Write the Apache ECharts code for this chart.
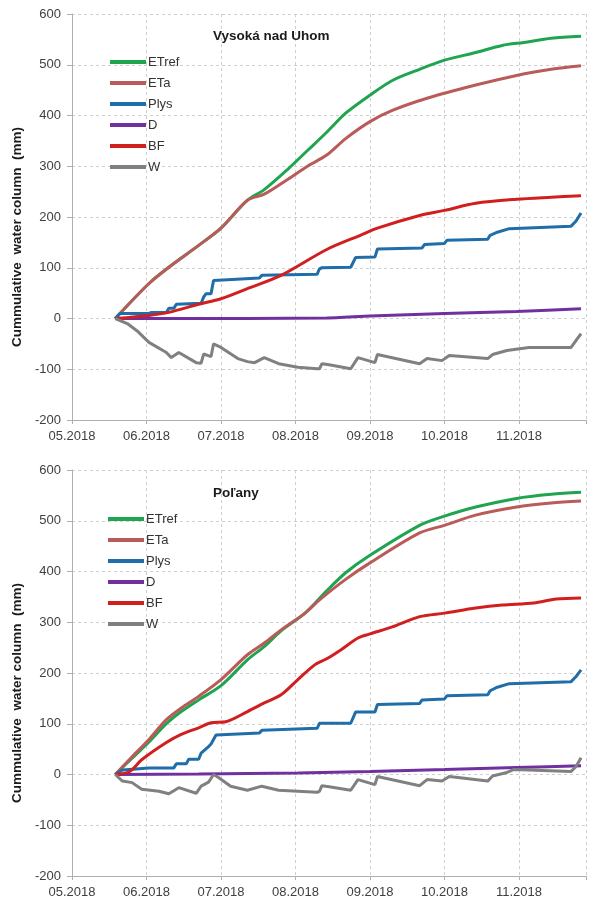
<!DOCTYPE html>
<html>
<head>
<meta charset="utf-8">
<script src="https://cdn.jsdelivr.net/npm/echarts@6/dist/echarts.min.js"></script>
<style>html,body{margin:0;padding:0;background:#fff}#c{width:589px;height:899px}</style>
</head>
<body>
<div id="c"></div>
<script>
// ---------- data (dates are MM-DD in 2018, values in mm) ----------
const monthLabels = ['05.2018','06.2018','07.2018','08.2018','09.2018','10.2018','11.2018'];
const seriesNames = ['ETref','ETa','Plys','D','BF','W'];
const titles = ['Vysoká nad Uhom','Poľany'];

// Vysoká nad Uhom
const topETref = [['05-19',0],['06-02',69],['06-10',101],['06-22',144],['07-01',178],['07-12',233],['07-19',254],['07-29',295],['08-06',331],['08-14',367],['08-22',405],['09-01',440],['09-10',469],['09-21',491],['10-01',509],['10-14',524],['10-25',538],['11-03',544],['11-14',552],['11-26',556]];
const topETa = [['05-19',0],['06-02',69],['06-10',101],['06-22',144],['07-01',178],['07-12',233],['07-19',245],['07-29',275],['08-06',300],['08-14',322],['08-22',355],['09-01',388],['09-10',410],['09-24',434],['10-14',460],['10-31',479],['11-14',491],['11-26',498]];
const topPlys = [['05-19',0],['05-21',10],['06-02',10],['06-03',12],['06-09',12],['06-10',20],['06-12',20],['06-13',28],['06-23',30],['06-24',42],['06-25',49],['06-27',49],['06-28',75],['07-17',80],['07-18',85],['08-10',87],['08-11',98],['08-12',100],['08-24',101],['08-26',120],['09-03',121],['09-04',137],['09-22',139],['09-23',146],['10-01',148],['10-02',154],['10-19',156],['10-20',164],['10-23',170],['10-28',177],['11-22',182],['11-24',192],['11-26',208]];
const topD = [['05-19',0],['07-12',0],['08-14',1],['09-01',5],['10-01',10],['10-31',14],['11-26',19]];
const topBF = [['05-19',0],['06-02',6],['06-10',12],['06-22',28],['07-01',39],['07-12',59],['07-26',85],['08-14',136],['08-28',164],['09-04',178],['09-21',203],['10-01',213],['10-14',227],['10-31',235],['11-14',239],['11-26',242]];
const topW = [['05-19',0],['05-24',-10],['05-28',-24],['06-02',-47],['06-09',-67],['06-11',-77],['06-14',-67],['06-21',-87],['06-23',-88],['06-24',-70],['06-27',-75],['06-28',-50],['07-01',-57],['07-08',-79],['07-12',-85],['07-15',-87],['07-19',-77],['07-25',-89],['08-02',-96],['08-10',-99],['08-11',-99],['08-12',-89],['08-15',-91],['08-24',-99],['08-27',-77],['09-03',-87],['09-04',-71],['09-21',-89],['09-24',-79],['09-30',-83],['10-03',-73],['10-19',-79],['10-21',-71],['10-27',-63],['11-05',-57],['11-22',-57],['11-24',-43],['11-26',-30]];

// Poľany
const botETref = [['05-19',0],['05-26',32],['06-02',64],['06-09',100],['06-15',124],['06-22',147],['07-01',175],['07-12',226],['07-19',252],['07-26',283],['08-05',318],['08-14',362],['08-22',398],['09-01',432],['09-21',491],['10-01',509],['10-14',527],['10-31',544],['11-14',552],['11-26',556]];
const botETa = [['05-19',0],['05-26',35],['06-02',69],['06-09',108],['06-15',131],['06-22',154],['07-01',187],['07-12',236],['07-19',259],['07-26',285],['08-05',318],['08-11',344],['08-22',385],['09-01',417],['09-21',476],['10-01',491],['10-14',511],['10-31',527],['11-14',535],['11-26',539]];
const botPlys = [['05-19',0],['05-22',9],['06-02',13],['06-12',13],['06-13',21],['06-17',21],['06-18',30],['06-22',30],['06-23',42],['06-26',55],['06-27',60],['06-29',78],['07-17',82],['07-18',87],['08-10',91],['08-11',101],['08-24',101],['08-26',123],['09-03',123],['09-04',138],['09-21',140],['09-22',147],['10-01',149],['10-02',155],['10-19',157],['10-20',165],['10-23',172],['10-28',179],['11-22',183],['11-24',193],['11-26',206]];
const botD = [['05-19',0],['06-22',1],['08-02',3],['09-01',6],['10-01',10],['10-31',14],['11-26',17]];
const botBF = [['05-19',0],['05-25',6],['05-30',29],['06-09',63],['06-15',79],['06-22',92],['06-27',102],['07-03',104],['07-12',124],['07-19',141],['07-26',157],['08-02',187],['08-09',216],['08-14',228],['08-20',246],['08-27',269],['09-01',277],['09-10',291],['09-21',311],['10-01',318],['10-14',328],['10-25',334],['11-07',338],['11-16',346],['11-26',348]];
const botW = [['05-19',0],['05-22',-13],['05-26',-16],['05-30',-29],['06-06',-33],['06-10',-38],['06-14',-26],['06-21',-37],['06-23',-23],['06-26',-15],['06-28',0],['06-30',-6],['07-05',-23],['07-12',-31],['07-18',-23],['07-25',-31],['08-02',-33],['08-10',-35],['08-11',-33],['08-12',-22],['08-15',-24],['08-24',-31],['08-27',-10],['09-03',-20],['09-04',-4],['09-21',-22],['09-24',-10],['09-30',-13],['10-03',-4],['10-19',-13],['10-21',-3],['10-27',4],['10-30',10],['11-22',6],['11-24',16],['11-26',33]];

const yTicks = {min:-200, max:600, interval:100};
// ---------------------------------------------------------------

const daysIn = [31,30,31,31,30,31,30];
function toM(s){ const p = s.split('-').map(Number); const i = p[0]-5; return i + (p[1]-1)/daysIn[i]; }
function conv(arr){ return arr.map(d => [toM(d[0]), d[1]]); }

const colors = ['#1fa44f','#b95c59','#1f6ea9','#7030a0','#d11f1f','#808080'];
const smoothK = [0.3, 0.3, 0, 0.2, 0.3, 0];
const topData = [topETref, topETa, topPlys, topD, topBF, topW];
const botData = [botETref, botETa, botPlys, botD, botBF, botW];
const FONT = 'Liberation Sans, Arial, sans-serif';

const grids = [
  {left:72, right:-2, top:14, height:406},
  {left:72, right:-2, top:470, height:407}
];

const gridLine = {show:true, lineStyle:{color:'#cfcfcf', type:[3,3], width:1}};
function xAxis(i){
  return {type:'value', gridIndex:i, min:0, max:6.9, interval:1,
    axisLine:{show:true, onZero:false, lineStyle:{color:'#b0b0b0', width:1}},
    axisTick:{show:true, length:4, lineStyle:{color:'#b0b0b0'}},
    splitLine:gridLine,
    axisLabel:{margin:10, color:'#404040', fontSize:13, fontFamily:FONT,
      formatter: v => (Math.abs(v - Math.round(v)) < 1e-6 && Math.round(v) < monthLabels.length) ? monthLabels[Math.round(v)] : ''}
  };
}
function yAxis(i){
  return {type:'value', gridIndex:i, min:yTicks.min, max:yTicks.max, interval:yTicks.interval,
    name:'Cummulative  water column  (mm)', nameLocation:'middle', nameGap:44,
    nameTextStyle:{fontWeight:'bold', fontSize:13.5, color:'#1a1a1a', fontFamily:FONT, padding:[0,40,0,0]},
    axisLine:{show:true, lineStyle:{color:'#b0b0b0', width:1}},
    axisTick:{show:true, length:5, lineStyle:{color:'#b0b0b0'}},
    splitLine:gridLine,
    axisLabel:{margin:11, color:'#404040', fontSize:13, fontFamily:FONT}
  };
}

const series = [];
[topData, botData].forEach((set, gi) => {
  set.forEach((arr, k) => {
    series.push({name:seriesNames[k], type:'line', xAxisIndex:gi, yAxisIndex:gi,
      data:conv(arr), showSymbol:false, symbol:'none', smooth:smoothK[k],
      lineStyle:{color:colors[k], width:3}, itemStyle:{color:colors[k]}, z:2+k});
  });
});

const legendBase = {orient:'vertical', icon:'rect', itemWidth:36, itemHeight:4, itemGap:7,
  selectedMode:false, data:seriesNames,
  textStyle:{fontSize:13, color:'#333', lineHeight:14, fontFamily:FONT, padding:[0,0,0,-3]}};

const option = {
  animation:false,
  backgroundColor:'#fff',
  color:colors,
  title:[
    {text:titles[0], left:213, top:29, textStyle:{fontSize:13.5, fontWeight:'bold', color:'#1a1a1a', fontFamily:FONT}, padding:0},
    {text:titles[1], left:213, top:486, textStyle:{fontSize:13.5, fontWeight:'bold', color:'#1a1a1a', fontFamily:FONT}, padding:0}
  ],
  legend:[
    Object.assign({}, legendBase, {left:110, top:55, padding:0}),
    Object.assign({}, legendBase, {left:108, top:512, padding:0})
  ],
  grid:grids,
  xAxis:[xAxis(0), xAxis(1)],
  yAxis:[yAxis(0), yAxis(1)],
  series:series
};

const chart = echarts.init(document.getElementById('c'), null, {renderer:'canvas'});
chart.setOption(option);
</script>
</body>
</html>
